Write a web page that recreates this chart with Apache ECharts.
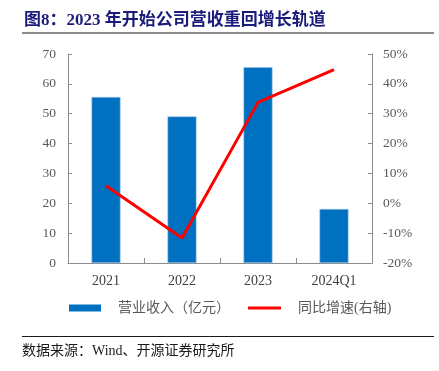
<!DOCTYPE html>
<html><head><meta charset="utf-8">
<script src="https://cdn.jsdelivr.net/npm/echarts@6/dist/echarts.min.js"></script>
<style>html,body{margin:0;padding:0;background:#fff}#c{width:439px;height:371px}</style>
</head><body><div id="c"></div>
<script>
const categories = ['2021', '2022', '2023', '2024Q1'];
const revenue = [55.6, 49.1, 65.6, 18.1];
const yoyGrowth = [5.9, -11.6, 33.8, 44.8];
const leftTicks = [0, 10, 20, 30, 40, 50, 60, 70];
const rightTicks = [-20, -10, 0, 10, 20, 30, 40, 50];
const titleText = '图8：2023 年开始公司营收重回增长轨道';
const sourceText = '数据来源：Wind、开源证券研究所';
const seriesNames = ['营业收入（亿元）', '同比增速(右轴)'];

const serif = '"Liberation Serif","Noto Sans CJK SC",serif';
const axisColor = '#8c8c8c';
const chart = echarts.init(document.getElementById('c'), null, {renderer: 'canvas'});
chart.setOption({
  animation: false,
  backgroundColor: '#fff',
  grid: {left: 68, right: 67, top: 54, bottom: 108, containLabel: false},
  legend: [
    {data: [{name: seriesNames[0], icon: 'rect'}], left: 69, top: 301, padding: 0, itemWidth: 32, itemHeight: 7,
     itemStyle: {borderWidth: 0},
     textStyle: {fontFamily: serif, fontSize: 14, color: '#595959', padding: [0, 0, 0, 12]}},
    {data: [{name: seriesNames[1], icon: 'rect'}], left: 248, top: 301, padding: 0, itemWidth: 33, itemHeight: 3,
     itemStyle: {borderWidth: 0},
     textStyle: {fontFamily: serif, fontSize: 14, color: '#595959', padding: [0, 0, 0, 12]}}
  ],
  xAxis: {
    type: 'category', data: categories,
    axisLine: {lineStyle: {color: axisColor, width: 1}},
    axisTick: {show: true, inside: true, length: 5, alignWithLabel: false, lineStyle: {color: axisColor}},
    axisLabel: {fontFamily: serif, fontSize: 14, color: '#404040', margin: 11}
  },
  yAxis: [
    {type: 'value', min: leftTicks[0], max: leftTicks[leftTicks.length - 1], interval: 10,
     axisLine: {show: true, lineStyle: {color: axisColor}},
     axisTick: {show: true, inside: true, length: 4, lineStyle: {color: axisColor}},
     splitLine: {show: false},
     axisLabel: {fontFamily: serif, fontSize: 13.5, color: '#595959', margin: 12}},
    {type: 'value', min: rightTicks[0], max: rightTicks[rightTicks.length - 1], interval: 10,
     axisLine: {show: true, lineStyle: {color: axisColor}},
     axisTick: {show: true, inside: true, length: 4, lineStyle: {color: axisColor}},
     splitLine: {show: false},
     axisLabel: {fontFamily: serif, fontSize: 13.5, color: '#595959', margin: 11, formatter: '{value}%'}}
  ],
  series: [
    {name: seriesNames[0], type: 'bar', data: revenue, barWidth: 29, yAxisIndex: 0,
     itemStyle: {color: '#0070c0', borderColor: '#9dc3e6', borderWidth: 0.6}},
    {name: seriesNames[1], type: 'line', data: yoyGrowth, yAxisIndex: 1, symbol: 'none',
     lineStyle: {color: '#ff0000', width: 3}, itemStyle: {color: '#ff0000'}}
  ],
  graphic: [
    {type: 'text', left: 24, top: 12, style: {text: titleText, fontFamily: serif, fontWeight: 'bold', fontSize: 17, fill: '#1b1b7a'}},
    {type: 'line', shape: {x1: 22, y1: 33, x2: 434, y2: 33}, style: {stroke: '#8c8c8c', lineWidth: 2}},
    {type: 'line', shape: {x1: 22, y1: 336.5, x2: 434, y2: 336.5}, style: {stroke: '#1a1a1a', lineWidth: 1}},
    {type: 'text', left: 22, top: 344, style: {text: sourceText, fontFamily: serif, fontSize: 14, fill: '#1a1a1a'}}
  ]
});
</script></body></html>
